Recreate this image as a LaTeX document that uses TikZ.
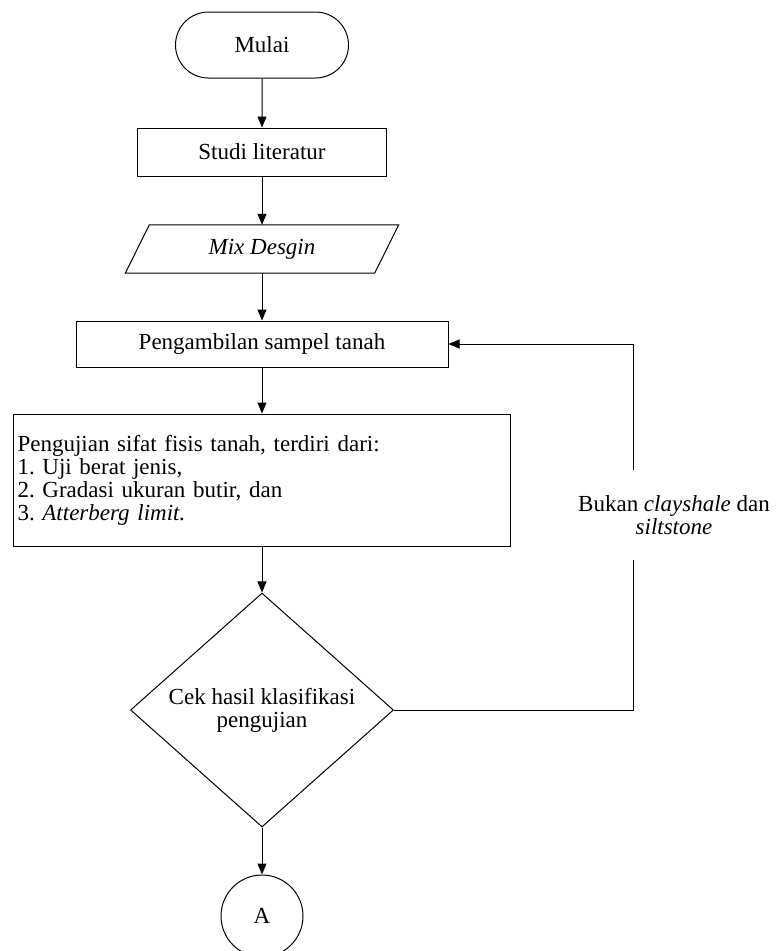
\documentclass[tikz,border=0pt]{standalone}
\usepackage{fontspec}
\setmainfont{Liberation Serif}
\frenchspacing
\usetikzlibrary{shapes.geometric,shapes.misc,arrows.meta,calc}
\begin{document}
\begin{tikzpicture}[x=1pt,y=-1pt,
  every node/.style={font=\fontsize{23}{23}\selectfont},
  base/.style={draw, line width=1pt, inner sep=0pt},
  proc/.style={base, rectangle},
  term/.style={base, rounded rectangle, minimum width=173pt, minimum height=66pt},
  dec/.style={base, diamond, minimum width=263pt, minimum height=234pt, aspect=1.12, align=center},
  conn/.style={base, circle, minimum size=82pt},
  flow/.style={line width=1pt, -{Triangle[length=11pt,width=9pt]}},
  plain/.style={line width=1pt}
]
\useasboundingbox (0,0) rectangle (778,951);
\node[term] (start) at (262,45) {Mulai};
\node[proc, minimum width=249pt, minimum height=48pt] (studi) at (262,152) {Studi literatur};
\node[inner sep=0pt, minimum width=249pt, minimum height=48pt] (mix) at (262,249) {\textit{Mix Desgin}};
\draw[plain] ($(mix.north west)+(12,0)$) -- ($(mix.north east)+(12,0)$) -- ($(mix.south east)+(-12,0)$) -- ($(mix.south west)+(-12,0)$) -- cycle;
\node[proc, minimum width=372pt, minimum height=46pt] (ambil) at (262,344) {Pengambilan sampel tanah};
\node[proc, minimum width=497pt, minimum height=132pt, text width=489pt, align=left, inner xsep=4pt] (uji) at (262,480) {Pengujian sifat fisis tanah, terdiri dari:\\1. Uji berat jenis,\\2. Gradasi ukuran butir, dan\\3. \textit{Atterberg limit.}};
\node[dec] (cek) at (262,710) {Cek hasil klasifikasi\\pengujian};
\node[conn] (a) at (262,916) {A};
\draw[flow] (start) -- (studi);
\draw[flow] (studi) -- (mix);
\draw[flow] (mix) -- (ambil);
\draw[flow] (ambil) -- (uji);
\draw[flow] (uji) -- (cek);
\draw[flow] (cek) -- (a);
\coordinate (g1) at (633,560);
\coordinate (g2) at (633,470);
\draw[plain] (cek.east) -| (g1);
\draw[flow] (g2) |- (ambil.east);
\node[align=center] (lbl) at (674,515) {Bukan \textit{clayshale} dan\\\textit{siltstone}};
\end{tikzpicture}
\end{document}
